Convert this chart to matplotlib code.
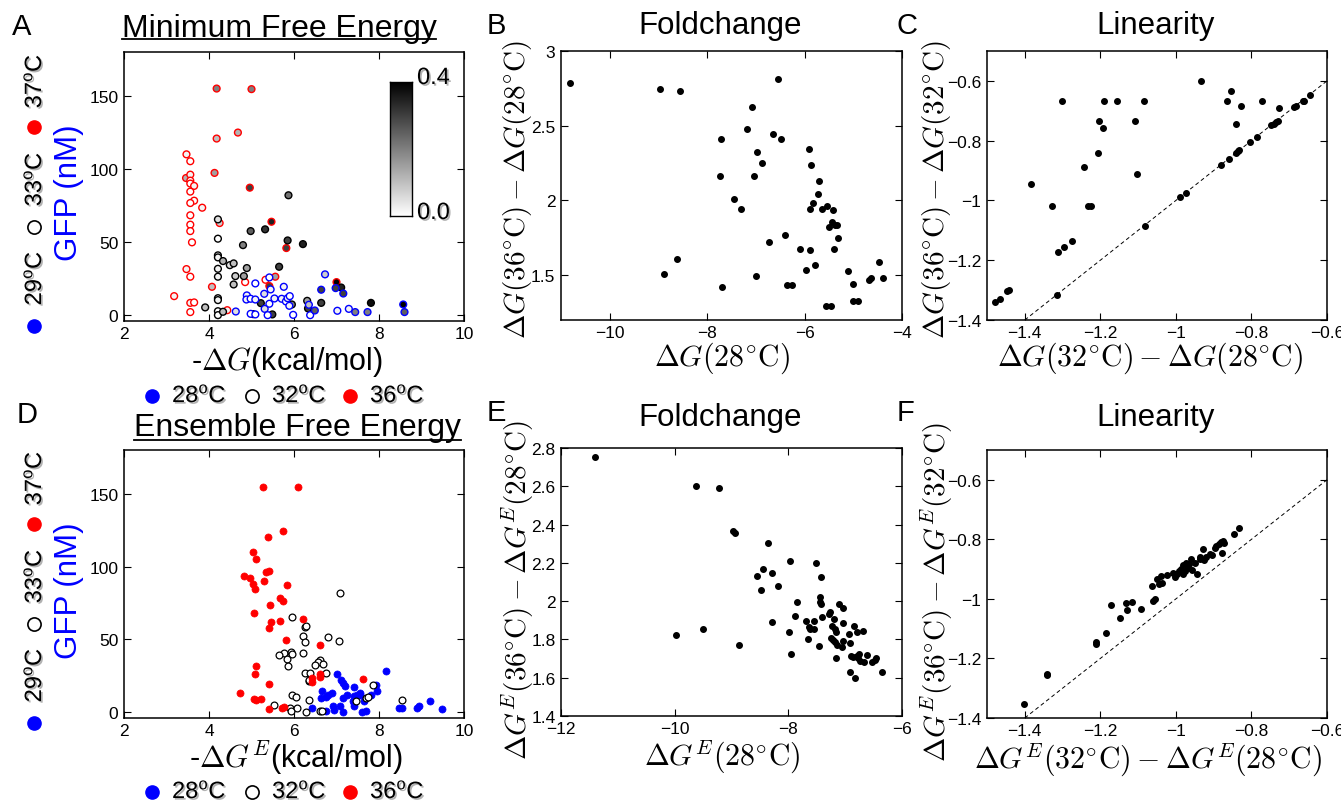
import numpy as np
import matplotlib
matplotlib.use("Agg")
import matplotlib.pyplot as plt
import matplotlib.patheffects as pe
from matplotlib.ticker import FuncFormatter, FixedLocator

plt.rcParams['font.family'] = ['Liberation Sans', 'DejaVu Sans']
plt.rcParams['mathtext.fontset'] = 'custom'
plt.rcParams['mathtext.rm'] = 'Liberation Sans'
plt.rcParams['mathtext.it'] = 'Liberation Sans:italic'
plt.rcParams['mathtext.bf'] = 'Liberation Sans:bold'

# ---------------- Panel A data (MFE): x=-dG, y=GFP, shade value ----------------
a_red_x = [4.18, 5.00, 4.68, 4.18, 3.47, 3.56, 4.13, 3.46, 3.56, 3.56, 3.56, 3.65, 4.96, 3.56, 3.65,
           3.56, 3.84, 3.56, 3.56, 3.56, 3.60, 4.25, 5.47, 5.82, 3.47, 3.56, 4.07, 4.85, 5.33, 5.56,
           5.42, 7.00, 3.18, 3.56, 3.65, 3.56, 4.43]
a_red_y = [155.0, 154.6, 124.9, 120.8, 110.0, 105.3, 97.3, 93.8, 96.1, 92.0, 90.0, 88.4, 87.2, 84.5, 78.3,
           76.7, 73.5, 68.3, 61.9, 57.5, 49.8, 63.0, 63.9, 45.9, 31.5, 26.3, 19.4, 22.6, 24.2, 26.3,
           19.9, 22.6, 13.0, 8.4, 8.7, 2.1, 3.4]
a_red_c = [0.20, 0.20, 0.12, 0.10, 0.02, 0.0, 0.15, 0.12, 0.02, 0.0, 0.0, 0.02, 0.30, 0.0, 0.0,
           0.0, 0.02, 0.0, 0.0, 0.0, 0.0, 0.08, 0.35, 0.30, 0.02, 0.0, 0.10, 0.0, 0.0, 0.15,
           0.30, 0.40, 0.02, 0.02, 0.0, 0.0, 0.02]

a_blk_x = [5.87, 4.21, 4.98, 5.32, 5.85, 6.21, 4.80, 4.21, 4.21, 4.21, 4.33, 4.49, 4.58, 5.65, 4.21,
           4.89, 4.62, 4.21, 4.82, 4.58, 4.21, 4.21, 3.91, 5.22, 5.95, 6.31, 6.33, 6.64, 7.11, 7.81,
           4.21, 4.21, 4.33, 5.49, 5.04]
a_blk_y = [82.0, 65.5, 57.5, 58.7, 51.1, 48.6, 47.9, 52.3, 40.9, 39.5, 37.0, 34.2, 35.4, 33.1, 31.7,
           32.2, 26.7, 26.3, 26.7, 21.0, 11.6, 10.3, 5.3, 8.2, 7.3, 9.8, 4.6, 8.4, 18.9, 8.4,
           2.7, 0.0, 2.3, 0.5, 0.7]
a_blk_c = [0.22, 0.05, 0.25, 0.32, 0.30, 0.35, 0.20, 0.0, 0.02, 0.02, 0.12, 0.05, 0.10, 0.30, 0.02,
           0.15, 0.08, 0.02, 0.15, 0.10, 0.02, 0.02, 0.10, 0.30, 0.20, 0.15, 0.30, 0.30, 0.35, 0.38,
           0.0, 0.0, 0.10, 0.30, 0.05]

a_blu_x = [6.73, 5.42, 5.09, 5.45, 5.76, 5.30, 6.64, 6.98, 7.16, 4.89, 4.88, 4.98, 5.09, 5.42, 5.54,
           5.71, 5.81, 5.85, 5.90, 5.89, 5.31, 4.63, 4.98, 5.09, 5.38, 5.98, 6.35, 6.38, 6.49, 7.02,
           7.29, 7.44, 7.73, 8.57, 8.60]
a_blu_y = [27.9, 25.8, 21.7, 17.6, 19.4, 14.6, 17.4, 18.5, 14.8, 13.5, 10.7, 11.2, 10.7, 7.8, 11.4,
           11.2, 9.4, 11.6, 13.0, 6.4, 4.3, 2.5, 0.9, 0.5, 0.0, 0.2, 7.1, 0.0, 3.2, 3.0,
           4.3, 2.1, 2.1, 7.3, 2.1]
a_blu_c = [0.08, 0.0, 0.0, 0.02, 0.02, 0.05, 0.30, 0.30, 0.30, 0.02, 0.02, 0.0, 0.02, 0.0, 0.02,
           0.02, 0.0, 0.02, 0.0, 0.02, 0.05, 0.05, 0.0, 0.0, 0.0, 0.0, 0.10, 0.0, 0.25, 0.02,
           0.02, 0.20, 0.20, 0.40, 0.25]

# ---------------- Panel B data ----------------
b_x = [-10.82, -8.97, -8.56, -6.55, -7.07, -7.18, -7.71, -6.64, -6.49, -6.97, -6.88, -7.73, -7.03, -7.45,
       -7.30, -5.90, -5.86, -5.70, -5.72, -5.83, -5.89, -5.64, -5.54, -5.42, -5.44, -5.38, -5.34, -5.49,
       -5.32, -5.40, -6.40, -6.73, -6.09, -5.88, -5.78, -5.98, -8.62, -8.88, -6.99, -7.70, -6.36, -6.25,
       -5.55, -5.45, -5.10, -5.01, -5.01, -4.90, -4.67, -4.64, -4.48, -4.38]
b_y = [2.786, 2.746, 2.734, 2.812, 2.625, 2.475, 2.408, 2.444, 2.408, 2.326, 2.248, 2.161, 2.161, 2.009,
       1.946, 2.342, 2.237, 2.129, 2.045, 1.980, 1.946, 1.946, 1.964, 1.938, 1.857, 1.835, 1.839, 1.821,
       1.750, 1.676, 1.766, 1.719, 1.676, 1.667, 1.569, 1.533, 1.609, 1.511, 1.496, 1.420, 1.435, 1.431,
       1.295, 1.295, 1.529, 1.440, 1.330, 1.330, 1.467, 1.484, 1.585, 1.482]

# ---------------- Panel C data ----------------
c_x = [-1.479, -1.466, -1.446, -1.442, -1.383, -1.327, -1.314, -1.311, -1.296, -1.275, -1.301, -1.242,
       -1.232, -1.225, -1.206, -1.204, -1.192, -1.189, -1.156, -1.108, -1.102, -1.084, -1.081, -0.988,
       -0.973, -0.933, -0.881, -0.864, -0.859, -0.853, -0.841, -0.840, -0.835, -0.832, -0.827, -0.804,
       -0.785, -0.771, -0.747, -0.741, -0.735, -0.731, -0.727, -0.688, -0.682, -0.664, -0.660, -0.645]
c_y = [-1.340, -1.329, -1.303, -1.299, -0.946, -1.017, -1.317, -1.171, -1.155, -1.136, -0.667, -0.889,
       -1.020, -1.017, -0.842, -0.735, -0.756, -0.667, -0.667, -0.735, -0.910, -0.667, -1.084, -0.990,
       -0.976, -0.602, -0.883, -0.667, -0.860, -0.633, -0.743, -0.842, -0.836, -0.831, -0.685, -0.804,
       -0.787, -0.667, -0.747, -0.743, -0.736, -0.733, -0.692, -0.688, -0.683, -0.667, -0.667, -0.647]

# ---------------- Panel D data (ensemble) ----------------
d_red_x = [5.27, 6.09, 5.73, 5.38, 5.03, 5.10, 5.40, 5.34, 4.82, 4.97, 5.29, 5.03, 5.84, 5.09, 5.67,
           5.73, 5.43, 5.06, 5.47, 5.67, 6.20, 5.41, 5.82, 6.60, 5.10, 5.09, 6.60, 6.60, 6.43, 6.43,
           5.40, 7.63, 4.73, 5.07, 5.11, 5.22, 5.42, 5.72, 5.77]
d_red_y = [154.8, 154.3, 124.5, 120.2, 109.8, 105.2, 97.0, 96.4, 93.6, 92.0, 89.8, 88.2, 87.0, 84.5, 78.2,
           76.6, 73.4, 68.2, 61.8, 62.7, 63.9, 57.7, 49.5, 45.9, 31.6, 26.4, 25.9, 24.3, 23.2, 20.5,
           19.5, 22.7, 13.2, 9.1, 8.4, 9.1, 2.0, 2.7, 3.6]

d_blk_x = [7.08, 5.96, 6.27, 6.29, 6.20, 6.26, 6.80, 7.05, 5.76, 5.65, 5.93, 5.95, 5.83, 6.22, 5.86,
           6.60, 6.56, 6.68, 6.50, 6.25, 6.38, 6.36, 6.36, 6.76, 5.96, 6.04, 6.35, 5.52, 5.91, 5.93,
           6.07, 6.29, 6.62, 6.67, 7.70, 7.73, 7.85, 8.55, 7.45]
d_blk_y = [81.8, 65.5, 58.4, 59.1, 52.3, 48.0, 51.4, 48.6, 40.5, 39.1, 41.6, 40.2, 36.8, 40.7, 31.6,
           35.5, 34.5, 33.4, 32.3, 26.8, 26.6, 21.1, 21.8, 26.8, 11.6, 10.2, 8.4, 5.2, 3.2, 1.1,
           2.7, 0.0, 0.9, 1.1, 9.8, 10.7, 18.9, 8.6, 8.0]

d_blu_x = [8.16, 7.00, 7.11, 7.15, 7.19, 7.40, 6.66, 7.94, 7.95, 6.64, 6.75, 6.81, 6.89, 7.24, 7.15,
           7.42, 7.48, 7.56, 7.55, 7.81, 7.38, 7.40, 7.42, 7.65, 7.08, 6.91, 6.42, 6.75, 6.95, 7.16,
           7.60, 7.69, 8.46, 8.54, 8.89, 8.95, 9.20, 9.49]
d_blu_y = [28.0, 25.9, 22.0, 20.0, 18.0, 17.5, 14.8, 18.4, 14.8, 10.0, 10.7, 11.8, 13.2, 11.6, 9.5,
           11.4, 11.6, 13.4, 11.8, 11.8, 8.0, 6.1, 3.9, 7.5, 4.5, 4.5, 3.0, 0.5, 1.4, 0.0,
           0.0, 0.5, 2.7, 3.2, 2.7, 4.1, 7.5, 2.3]

# ---------------- Panel E data ----------------
e_x = [-11.40, -9.62, -9.22, -8.97, -8.94, -8.36, -7.97, -7.52, -7.43, -8.45, -8.56, -8.28, -8.19, -8.48,
       -7.84, -7.45, -7.44, -7.43, -7.11, -7.03, -7.88, -7.69, -7.54, -7.41, -7.29, -7.27, -7.20, -7.03,
       -6.84, -8.28, -7.64, -7.61, -7.55, -7.23, -7.18, -7.17, -6.68, -6.79, -7.98, -6.94, -7.25, -7.21,
       -7.18, -7.03, -7.66, -6.91, -7.14, -7.05, -7.46, -7.17, -7.95, -6.90, -6.86, -6.80, -6.76, -6.78,
       -6.74, -6.66, -6.62, -6.52, -6.48, -6.45, -6.91, -6.83, -6.36, -9.97, -9.51, -8.87]
e_y = [2.753, 2.600, 2.593, 2.367, 2.357, 2.303, 2.212, 2.197, 2.125, 2.169, 2.129, 2.148, 2.077, 2.059,
       1.995, 2.023, 1.995, 1.983, 1.983, 1.963, 1.925, 1.897, 1.897, 1.918, 1.934, 1.941, 1.908, 1.887,
       1.870, 1.890, 1.864, 1.856, 1.852, 1.868, 1.857, 1.840, 1.845, 1.838, 1.840, 1.826, 1.805, 1.797,
       1.788, 1.790, 1.800, 1.781, 1.769, 1.760, 1.765, 1.701, 1.722, 1.711, 1.708, 1.713, 1.725, 1.701,
       1.687, 1.680, 1.717, 1.683, 1.694, 1.701, 1.631, 1.597, 1.628, 1.824, 1.857, 1.772]

# ---------------- Panel F data ----------------
f_x = [-1.401, -1.342, -1.340, -1.212, -1.211, -1.184, -1.173, -1.149, -1.132, -1.129, -1.115, -1.093,
       -1.063, -1.061, -1.056, -1.050, -1.046, -1.039, -1.037, -1.023, -1.008, -1.002, -0.997, -0.992,
       -0.986, -0.981, -0.980, -0.975, -0.973, -0.968, -0.964, -0.961, -0.958, -0.950, -0.944, -0.937,
       -0.935, -0.928, -0.926, -0.919, -0.911, -0.904, -0.897, -0.893, -0.887, -0.881, -0.878, -0.875,
       -0.873, -0.847, -0.834]
f_y = [-1.353, -1.256, -1.253, -1.150, -1.146, -1.115, -1.020, -1.063, -1.015, -1.038, -1.010, -1.035,
       -0.956, -1.008, -1.001, -0.934, -0.950, -0.923, -0.947, -0.921, -0.914, -0.925, -0.915, -0.906,
       -0.898, -0.917, -0.887, -0.906, -0.878, -0.895, -0.884, -0.867, -0.903, -0.878, -0.916, -0.867,
       -0.858, -0.833, -0.869, -0.861, -0.850, -0.854, -0.828, -0.822, -0.817, -0.809, -0.845, -0.806,
       -0.813, -0.782, -0.761]

# ---------------- figure ----------------
W, H = 1341, 803
fig = plt.figure(figsize=(W / 100, H / 100), dpi=100)


def box(x0, y0, x1, y1):
    return [x0 / W, 1 - y1 / H, (x1 - x0) / W, (y1 - y0) / H]


def fmt(v, pos=None):
    return ('%g' % round(v, 4)).replace('-', '\u2212')


def style(ax, xt, yt, xl, yl):
    ax.set_xlim(*xl)
    ax.set_ylim(*yl)
    ax.xaxis.set_major_locator(FixedLocator(xt))
    ax.yaxis.set_major_locator(FixedLocator(yt))
    ax.xaxis.set_major_formatter(FuncFormatter(fmt))
    ax.yaxis.set_major_formatter(FuncFormatter(fmt))
    ax.tick_params(direction='in', top=True, right=True, length=5, width=0.8,
                   labelsize=12.5, pad=4)
    ax.tick_params(axis='x', pad=3.5)
    for s in ax.spines.values():
        s.set_linewidth(1.1)


shadow = [pe.withSimplePatchShadow(offset=(1.2, -1.2), shadow_rgbFace=(0.45, 0.45, 0.45), alpha=0.55)]

# overlay in pixel coords for annotations
ov = fig.add_axes([0, 0, 1, 1], zorder=5)
ov.set_xlim(0, W)
ov.set_ylim(H, 0)
ov.axis('off')

cmap = plt.get_cmap('gray_r')

# ---- A ----
axA = fig.add_axes(box(124, 53, 464, 322))
for xs, ys, cs, ec in [(a_red_x, a_red_y, a_red_c, 'red'), (a_blk_x, a_blk_y, a_blk_c, 'black'),
                       (a_blu_x, a_blu_y, a_blu_c, 'blue')]:
    axA.scatter(xs, ys, c=cs, cmap=cmap, vmin=0, vmax=0.4, s=24, edgecolors=ec, linewidths=1.0, zorder=3)
style(axA, [2, 4, 6, 8, 10], [0, 50, 100, 150], (2, 10), (-4, 180))

cax = fig.add_axes(box(390, 83, 412, 217))
grad = np.linspace(0, 0.4, 256).reshape(-1, 1)
cax.imshow(grad, aspect='auto', cmap=cmap, vmin=0, vmax=0.4, origin='lower', extent=[0, 1, 0, 0.4])
cax.set_xticks([])
cax.set_yticks([])
for s in cax.spines.values():
    s.set_linewidth(1.0)
ov.text(417, 79, '0.4', fontsize=17, va='center', ha='left', path_effects=shadow)
ov.text(417, 214, '0.0', fontsize=17, va='center', ha='left', path_effects=shadow)

# ---- B ----
axB = fig.add_axes(box(561, 52, 902, 321))
axB.scatter(b_x, b_y, s=16, color='black', zorder=3)
style(axB, [-10, -8, -6, -4], [1.5, 2, 2.5, 3], (-11, -4), (1.2, 3))

# ---- C ----
axC = fig.add_axes(box(987, 52, 1327, 321))
axC.plot([-1.4, -0.6], [-1.4, -0.6], '--', color='black', lw=0.7, dashes=(4, 3))
axC.scatter(c_x, c_y, s=16, color='black', zorder=3)
style(axC, [-1.4, -1.2, -1, -0.8, -0.6], [-1.4, -1.2, -1, -0.8, -0.6], (-1.5, -0.6), (-1.4, -0.5))

# ---- D ----
axD = fig.add_axes(box(124, 451, 464, 719))
axD.scatter(d_blu_x, d_blu_y, s=26, color='blue', edgecolors='blue', linewidths=0.5, zorder=3)
axD.scatter(d_blk_x, d_blk_y, s=24, facecolors='white', edgecolors='black', linewidths=0.9, zorder=3)
axD.scatter(d_red_x, d_red_y, s=26, color='red', edgecolors='red', linewidths=0.5, zorder=3)
style(axD, [2, 4, 6, 8, 10], [0, 50, 100, 150], (2, 10), (-4, 180))

# ---- E ----
axE = fig.add_axes(box(561, 449, 902, 717))
axE.scatter(e_x, e_y, s=16, color='black', zorder=3)
style(axE, [-12, -10, -8, -6], [1.4, 1.6, 1.8, 2.0, 2.2, 2.4, 2.6, 2.8], (-12, -6), (1.4, 2.8))

# ---- F ----
axF = fig.add_axes(box(987, 451, 1327, 719))
axF.plot([-1.4, -0.6], [-1.4, -0.6], '--', color='black', lw=0.7, dashes=(4, 3))
axF.scatter(f_x, f_y, s=16, color='black', zorder=3)
style(axF, [-1.4, -1.2, -1, -0.8, -0.6], [-1.4, -1.2, -1, -0.8, -0.6], (-1.5, -0.6), (-1.4, -0.5))

# ---- panel letters & titles ----
for letter, x, y in [('A', 12, 27), ('B', 487, 26), ('C', 897, 26), ('D', 17, 415), ('E', 487, 413), ('F', 897, 413)]:
    ov.text(x, y, letter, fontsize=21, ha='left', va='center')

ov.text(122, 36.5, 'Minimum Free Energy', fontsize=23, ha='left', va='baseline')
ov.plot([122, 436], [39.8, 39.8], color='black', lw=1.3)
ov.text(134, 436, 'Ensemble Free Energy', fontsize=23, ha='left', va='baseline')
ov.plot([134, 461], [440.5, 440.5], color='black', lw=1.3)
ov.text(720, 26, 'Foldchange', fontsize=22.5, ha='center', va='center')
ov.text(1156, 26, 'Linearity', fontsize=22.5, ha='center', va='center')
ov.text(720, 418, 'Foldchange', fontsize=22.5, ha='center', va='center')
ov.text(1156, 418, 'Linearity', fontsize=22.5, ha='center', va='center')

# ---- axis labels (B, C, E, F) in CM math ----
cm = dict(math_fontfamily='cm')
ov.text(722, 358, r'$\Delta G(28^{\circ}\mathrm{C})$', fontsize=21.5, ha='center', va='center', **cm)
ov.text(1150, 358, r'$\Delta G(32^{\circ}\mathrm{C}) - \Delta G(28^{\circ}\mathrm{C})$', fontsize=21.5,
        ha='center', va='center', **cm)
ov.text(518, 190, r'$\Delta G(36^{\circ}\mathrm{C}) - \Delta G(28^{\circ}\mathrm{C})$', fontsize=21,
        ha='center', va='center', rotation=90, **cm)
ov.text(937, 190, r'$\Delta G(36^{\circ}\mathrm{C}) - \Delta G(32^{\circ}\mathrm{C})$', fontsize=21,
        ha='center', va='center', rotation=90, **cm)
ov.text(722, 757, r'$\Delta G^{E}(28^{\circ}\mathrm{C})$', fontsize=21.5, ha='center', va='center', **cm)
ov.text(1148, 760, r'$\Delta G^{E}(32^{\circ}\mathrm{C}) - \Delta G^{E}(28^{\circ}\mathrm{C})$', fontsize=21.5,
        ha='center', va='center', **cm)
ov.text(518, 590, r'$\Delta G^{E}(36^{\circ}\mathrm{C}) - \Delta G^{E}(28^{\circ}\mathrm{C})$', fontsize=21,
        ha='center', va='center', rotation=90, **cm)
ov.text(937, 592, r'$\Delta G^{E}(36^{\circ}\mathrm{C}) - \Delta G^{E}(32^{\circ}\mathrm{C})$', fontsize=21,
        ha='center', va='center', rotation=90, **cm)

# ---- A / D labels ----
ov.text(287, 362, r'-$\Delta G$(kcal/mol)', fontsize=22, ha='center', va='center', **cm)
ov.text(296, 758, r'-$\Delta G^{E}$(kcal/mol)', fontsize=22, ha='center', va='center', **cm)
for yc in (193, 591):
    ov.text(69, yc, 'GFP (nM)', fontsize=22.5, color='blue', rotation=90, ha='center', va='center')

deg = r'$^{\mathrm{o}}$C'


def marker(x, y, kind):
    if kind == 'blue':
        ov.plot([x], [y], 'o', ms=9.5, color='blue', mec='blue')
    elif kind == 'red':
        ov.plot([x], [y], 'o', ms=9.5, color='red', mec='red')
    else:
        ov.plot([x], [y], 'o', ms=9.5, mfc='white', mec='black', mew=1.2)


# vertical columns
for base in (0, 397):
    for my, ty, kind, lab in [(327, 279, 'blue', '29'), (228, 180, 'open', '33'), (128, 82, 'red', '37')]:
        marker(34, my + base, kind)
        ov.text(35, ty + base, lab + deg, fontsize=17, rotation=90, ha='center', va='center',
                path_effects=shadow)

# horizontal legends
for ly in (397, 793):
    for mx, kind, lab in [(152, 'blue', '28'), (252, 'open', '32'), (350, 'red', '36')]:
        marker(mx, ly, kind)
        ov.text(mx + 20, ly, lab + deg, fontsize=17, ha='left', va='center', path_effects=shadow)

fig.savefig('out.png', dpi=100)
